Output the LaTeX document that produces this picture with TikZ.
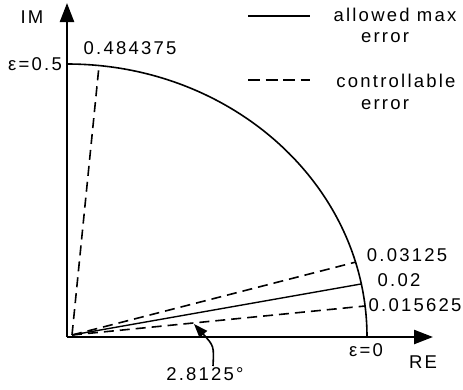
\documentclass[tikz,border=0pt]{standalone}
\usepackage{fontspec}
\setmainfont{Liberation Sans}[LetterSpace=12]
\usetikzlibrary{arrows.meta}
\begin{document}
\begin{tikzpicture}[x=1pt,y=-1pt,
  lbl/.style={inner sep=0pt,font=\fontsize{18.5}{21}\selectfont},
  axisline/.style={line width=2.4pt,-{Triangle[length=19pt,width=14pt]}},
  rayd/.style={line width=1.6pt,dash pattern=on 10pt off 6pt},
  rays/.style={line width=1.4pt},
  arcline/.style={line width=1.6pt}]
\useasboundingbox (0,0) rectangle (463,389);
% axes
\coordinate (O) at (67,337);
\coordinate (ytip) at (67,3);
\coordinate (xtip) at (433,337);
\draw[axisline] (O) -- (ytip);
\draw[axisline] (O) -- (xtip);
% quarter ellipse
\coordinate (top) at (67,64);
\draw[arcline] (top) arc[start angle=90,end angle=0,x radius=300pt,y radius=273pt] coordinate (right);
% rays
\coordinate (R) at (72,335);
\coordinate (e1) at (99,66);
\coordinate (e2) at (356,262);
\coordinate (e3) at (361,284);
\coordinate (e4) at (365,306);
\draw[rayd] (R) -- (e1);
\draw[rayd] (R) -- (e2);
\draw[rays] (R) -- (e3);
\draw[rayd] (R) -- (e4);
% labels
\node[lbl] (im) at (32,17) {IM};
\node[lbl] (e05) at (35,64.5) {ε=0.5};
\node[lbl] (l1) at (130,48.5) {0.484375};
\node[lbl] (l2) at (407,255) {0.03125};
\node[lbl] (l3) at (399,280) {0.02};
\node[lbl] (l4) at (415,305) {0.015625};
\node[lbl] (e0) at (366,350) {ε=0};
\node[lbl] (re) at (423,362.5) {RE};
\node[lbl] (ang) at (205,374.5) {2.8125°};
% angle arrow
\coordinate (as) at (213,366);
\coordinate (at) at (194,324);
\draw[line width=1.6pt,-{Triangle[length=14pt,width=10pt]}] (as) .. controls (214,346) .. (at);
% legend
\coordinate (ls1) at (248,16);
\coordinate (ls2) at (310,16);
\coordinate (ld1) at (248,80);
\coordinate (ld2) at (310,80);
\draw[line width=1.3pt] (ls1) -- (ls2);
\draw[line width=1.8pt,dash pattern=on 12pt off 5.5pt] (ld1) -- (ld2);
\node[lbl] (t1) at (395,14.5) {allowed max};
\node[lbl] (t2) at (385,37.5) {error};
\node[lbl] (t3) at (396,81) {controllable};
\node[lbl] (t4) at (385,104.5) {error};
\end{tikzpicture}
\end{document}
